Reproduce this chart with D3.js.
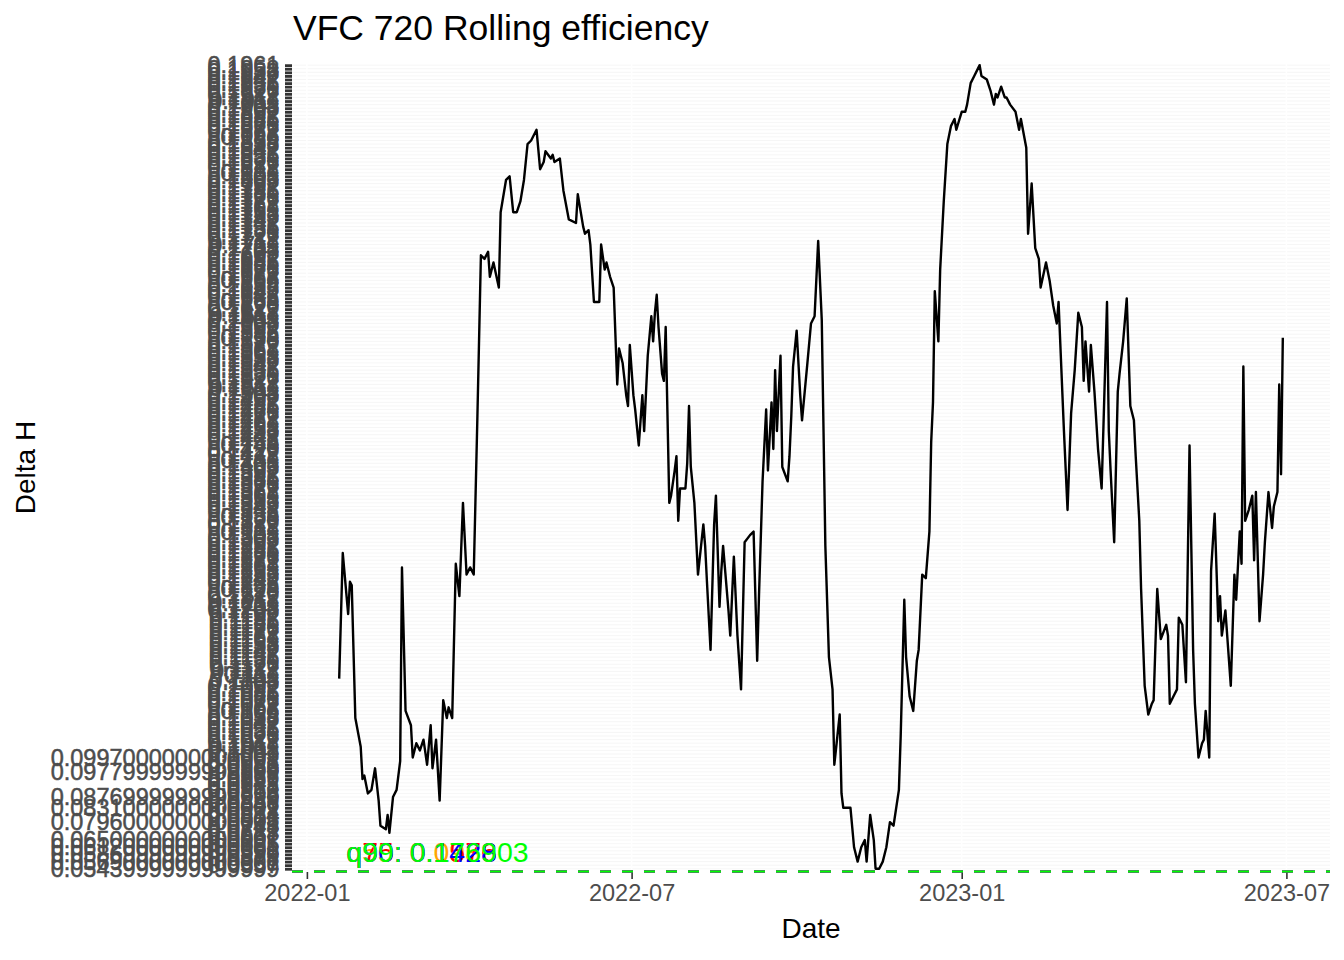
<!DOCTYPE html>
<html>
  <head>
    <meta charset="utf-8">
    <title>VFC 720 Rolling efficiency</title>
    <script src="https://d3js.org/d3.v7.min.js"></script>
    <style>
      body {
        margin: 0;
        background: #ffffff;
      }
      svg {
        font-family: "Liberation Sans", Arial, sans-serif;
      }
    </style>
  </head>
  <body>
    <div id="chart"></div>
    <script>

      // y is a discrete (character) axis: every distinct Delta H string is its own level
      const levels = [
        "0.0543999999999999", "0.0557", "0.0569000000000001", "0.0578", "0.0586999999999999",
        "0.0598", "0.0612000000000001", "0.0625", "0.0650000000000001", "0.0667",
        "0.0683", "0.0712", "0.0745", "0.0796000000000001", "0.0803",
        "0.0814", "0.0822", "0.0831000000000001", "0.0846", "0.0859",
        "0.0876999999999999", "0.0893", "0.0912", "0.0928", "0.0941",
        "0.0957", "0.0966", "0.0977999999999999", "0.0983", "0.0986",
        "0.0991", "0.0997000000000001",
        "0.1003", "0.1008", "0.1011", "0.1017", "0.1022", "0.1026", "0.1031", "0.1036", "0.1042", "0.1047",
        "0.1053", "0.1058", "0.106", "0.1067", "0.1072", "0.1076", "0.1081", "0.1086", "0.1092", "0.1097",
        "0.1103", "0.1108", "0.111", "0.1117", "0.1122", "0.1126", "0.1131", "0.1136", "0.1142", "0.1147",
        "0.1153", "0.1158", "0.1161", "0.1167", "0.1172", "0.1176", "0.1181", "0.1186", "0.1192", "0.1197",
        "0.1203", "0.1208", "0.1211", "0.1217", "0.1222", "0.1226", "0.123", "0.1236", "0.1242", "0.1247",
        "0.1253", "0.1258", "0.1261", "0.1267", "0.1272", "0.1276", "0.1281", "0.1286", "0.1292", "0.1297",
        "0.1303", "0.1308", "0.131", "0.1317", "0.1322", "0.1326", "0.133", "0.1336", "0.1342", "0.1347",
        "0.1353", "0.1358", "0.1361", "0.1367", "0.1372", "0.1376", "0.1381", "0.1386", "0.1392", "0.1397",
        "0.1403", "0.1408", "0.141", "0.1417", "0.1422", "0.1426", "0.143", "0.1436", "0.1442", "0.1447",
        "0.1453", "0.1458", "0.1461", "0.1467", "0.1472", "0.1476", "0.1481", "0.1486", "0.1492", "0.1497",
        "0.1503", "0.1508", "0.1511", "0.1517", "0.1522", "0.1526", "0.1531", "0.1536", "0.1542", "0.1547",
        "0.1553", "0.1558", "0.1561", "0.1567", "0.1572", "0.1576", "0.158", "0.1586", "0.1592", "0.1597",
        "0.1603", "0.1608", "0.1611", "0.1617", "0.1622", "0.1626", "0.163", "0.1636", "0.1642", "0.1647",
        "0.1653", "0.1658", "0.166", "0.1667", "0.1672", "0.1676", "0.1681", "0.1686", "0.1692", "0.1697",
        "0.1703", "0.1708", "0.1711", "0.1717", "0.1722", "0.1726", "0.1731", "0.1736", "0.1742", "0.1747",
        "0.1753", "0.1758", "0.1761", "0.1767", "0.1772", "0.1776", "0.1781", "0.1786", "0.1792", "0.1797",
        "0.1803", "0.1808", "0.181", "0.1817", "0.1822", "0.1826", "0.1831", "0.1836", "0.1842", "0.1847",
        "0.1853", "0.1858", "0.186", "0.1867", "0.1872", "0.1876", "0.1881", "0.1886", "0.1892", "0.1897",
        "0.1903", "0.1908", "0.1911", "0.1917", "0.1922", "0.1926", "0.1931", "0.1936", "0.1942", "0.1947",
        "0.1953", "0.1958", "0.1961"
      ];

      // rolling efficiency
      const dates = [
        "2022-01-19","2022-01-21","2022-01-24","2022-01-25","2022-01-26","2022-01-28","2022-01-31","2022-02-01","2022-02-02","2022-02-04",
        "2022-02-06","2022-02-08","2022-02-10","2022-02-11","2022-02-14","2022-02-15","2022-02-16","2022-02-18","2022-02-20","2022-02-22",
        "2022-02-23","2022-02-25","2022-02-28","2022-03-01","2022-03-03","2022-03-05","2022-03-07","2022-03-09","2022-03-11","2022-03-12",
        "2022-03-14","2022-03-16","2022-03-18","2022-03-20","2022-03-21","2022-03-23","2022-03-25","2022-03-27","2022-03-29","2022-03-31",
        "2022-04-02","2022-04-04","2022-04-06","2022-04-08","2022-04-10","2022-04-12","2022-04-13","2022-04-15","2022-04-18","2022-04-19",
        "2022-04-20","2022-04-22","2022-04-24","2022-04-26","2022-04-28","2022-04-30","2022-05-02","2022-05-04","2022-05-06","2022-05-09",
        "2022-05-11","2022-05-13","2022-05-14","2022-05-17","2022-05-18","2022-05-19","2022-05-22","2022-05-24","2022-05-27","2022-05-31",
        "2022-06-01","2022-06-04","2022-06-05","2022-06-07","2022-06-08","2022-06-10","2022-06-13","2022-06-14","2022-06-16","2022-06-17",
        "2022-06-19","2022-06-21","2022-06-23","2022-06-24","2022-06-26","2022-06-28","2022-06-29","2022-06-30","2022-07-02","2022-07-03",
        "2022-07-05","2022-07-07","2022-07-08","2022-07-10","2022-07-12","2022-07-13","2022-07-14","2022-07-15","2022-07-16","2022-07-18",
        "2022-07-19","2022-07-20","2022-07-22","2022-07-23","2022-07-25","2022-07-26","2022-07-27","2022-07-28","2022-07-31","2022-08-01",
        "2022-08-02","2022-08-03","2022-08-05","2022-08-07","2022-08-10","2022-08-11","2022-08-12","2022-08-14","2022-08-16","2022-08-17",
        "2022-08-19","2022-08-20","2022-08-21","2022-08-24","2022-08-25","2022-08-27","2022-08-29","2022-08-31","2022-09-02","2022-09-05",
        "2022-09-07","2022-09-09","2022-09-10","2022-09-12","2022-09-14","2022-09-15","2022-09-17","2022-09-18","2022-09-19","2022-09-20",
        "2022-09-22","2022-09-23","2022-09-26","2022-09-27","2022-09-28","2022-09-29","2022-10-01","2022-10-03","2022-10-04","2022-10-07",
        "2022-10-09","2022-10-11","2022-10-13","2022-10-15","2022-10-17","2022-10-19","2022-10-21","2022-10-22","2022-10-25","2022-10-26",
        "2022-10-27","2022-10-29","2022-10-31","2022-11-02","2022-11-04","2022-11-06","2022-11-08","2022-11-09","2022-11-11","2022-11-13",
        "2022-11-14","2022-11-16","2022-11-18","2022-11-20","2022-11-22","2022-11-24","2022-11-27","2022-11-28","2022-11-30","2022-12-01",
        "2022-12-03","2022-12-05","2022-12-07","2022-12-08","2022-12-10","2022-12-12","2022-12-14","2022-12-15","2022-12-16","2022-12-17",
        "2022-12-19","2022-12-20","2022-12-22","2022-12-24","2022-12-26","2022-12-28","2022-12-29","2023-01-01","2023-01-03","2023-01-04",
        "2023-01-06","2023-01-08","2023-01-11","2023-01-12","2023-01-15","2023-01-17","2023-01-19","2023-01-20","2023-01-21","2023-01-23",
        "2023-01-25","2023-01-26","2023-01-28","2023-01-31","2023-02-02","2023-02-03","2023-02-06","2023-02-07","2023-02-09","2023-02-11",
        "2023-02-13","2023-02-14","2023-02-17","2023-02-19","2023-02-21","2023-02-23","2023-02-24","2023-02-27","2023-03-01","2023-03-03",
        "2023-03-05","2023-03-07","2023-03-09","2023-03-10","2023-03-11","2023-03-13","2023-03-14","2023-03-16","2023-03-18","2023-03-20",
        "2023-03-21","2023-03-23","2023-03-24","2023-03-25","2023-03-27","2023-03-29","2023-03-30","2023-04-01","2023-04-03","2023-04-05",
        "2023-04-07","2023-04-08","2023-04-10","2023-04-11","2023-04-13","2023-04-15","2023-04-17","2023-04-18","2023-04-20","2023-04-22",
        "2023-04-25","2023-04-26","2023-04-27","2023-04-29","2023-05-01","2023-05-02","2023-05-04","2023-05-06","2023-05-08","2023-05-10",
        "2023-05-11","2023-05-13","2023-05-15","2023-05-16","2023-05-17","2023-05-19","2023-05-20","2023-05-22","2023-05-24","2023-05-25",
        "2023-05-26","2023-05-28","2023-05-30","2023-05-31","2023-06-02","2023-06-03","2023-06-05","2023-06-06","2023-06-07","2023-06-08",
        "2023-06-10","2023-06-12","2023-06-13","2023-06-14","2023-06-16","2023-06-18","2023-06-19","2023-06-21","2023-06-23","2023-06-24",
        "2023-06-26","2023-06-27","2023-06-28","2023-06-29"
      ];

      const deltaH = [
        0.1107, 0.1281, 0.1195, 0.1243, 0.1236, 0.1053, 0.1010, 0.0957, 0.0966, 0.0893,
        0.0912, 0.0983, 0.0859, 0.0745, 0.0712, 0.0814, 0.0683, 0.0877, 0.0912, 0.0991,
        0.1261, 0.1063, 0.1042, 0.0997, 0.1014, 0.1007, 0.1021, 0.0986, 0.1042, 0.0983,
        0.1021, 0.0859, 0.1077, 0.1052, 0.1065, 0.1053, 0.1264, 0.1223, 0.1355, 0.1251,
        0.1260, 0.1255, 0.1466, 0.1695, 0.1692, 0.1703, 0.1668, 0.1686, 0.1654, 0.1759,
        0.1773, 0.1803, 0.1807, 0.1756, 0.1756, 0.1773, 0.1803, 0.1852, 0.1856, 0.1870,
        0.1817, 0.1828, 0.1842, 0.1832, 0.1835, 0.1828, 0.1831, 0.1786, 0.1745, 0.1742,
        0.1780, 0.1738, 0.1728, 0.1731, 0.1710, 0.1633, 0.1631, 0.1710, 0.1675, 0.1686,
        0.1668, 0.1654, 0.1515, 0.1568, 0.1550, 0.1501, 0.1487, 0.1571, 0.1501, 0.1480,
        0.1429, 0.1501, 0.1452, 0.1557, 0.1612, 0.1578, 0.1619, 0.1643, 0.1599, 0.1529,
        0.1522, 0.1596, 0.1351, 0.1362, 0.1397, 0.1418, 0.1327, 0.1372, 0.1372, 0.1408,
        0.1487, 0.1404, 0.1355, 0.1251, 0.1320, 0.1292, 0.1243, 0.1146, 0.1320, 0.1362,
        0.1209, 0.1258, 0.1292, 0.1202, 0.1167, 0.1278, 0.1167, 0.1090, 0.1299, 0.1309,
        0.1313, 0.1132, 0.1223, 0.1383, 0.1480, 0.1397, 0.1494, 0.1425, 0.1536, 0.1455,
        0.1557, 0.1404, 0.1383, 0.1418, 0.1473, 0.1543, 0.1589, 0.1505, 0.1466, 0.1550,
        0.1603, 0.1610, 0.1717, 0.1608, 0.1292, 0.1139, 0.1090, 0.0986, 0.1058, 0.0893,
        0.0831, 0.0831, 0.0831, 0.0612, 0.0569, 0.0612, 0.0650, 0.0569, 0.0814, 0.0650,
        0.0544, 0.0544, 0.0569, 0.0612, 0.0796, 0.0745, 0.0912, 0.1028, 0.1216, 0.1139,
        0.1083, 0.1063, 0.1132, 0.1146, 0.1251, 0.1246, 0.1313, 0.1438, 0.1494, 0.1650,
        0.1578, 0.1675, 0.1773, 0.1853, 0.1877, 0.1887, 0.1873, 0.1895, 0.1900, 0.1908,
        0.1937, 0.1949, 0.1960, 0.1949, 0.1940, 0.1928, 0.1908, 0.1922, 0.1919, 0.1930,
        0.1915, 0.1919, 0.1908, 0.1898, 0.1873, 0.1884, 0.1849, 0.1727, 0.1800, 0.1706,
        0.1692, 0.1654, 0.1689, 0.1661, 0.1626, 0.1603, 0.1633, 0.1452, 0.1341, 0.1477,
        0.1536, 0.1615, 0.1599, 0.1522, 0.1578, 0.1508, 0.1571, 0.1508, 0.1425, 0.1372,
        0.1459, 0.1629, 0.1452, 0.1397, 0.1299, 0.1508, 0.1529, 0.1578, 0.1636, 0.1487,
        0.1466, 0.1418, 0.1327, 0.1230, 0.1096, 0.1058, 0.1070, 0.1077, 0.1230, 0.1163,
        0.1181, 0.1167, 0.1070, 0.1083, 0.1090, 0.1192, 0.1181, 0.1104, 0.1431, 0.1149,
        0.1070, 0.0997, 0.1014, 0.1021, 0.1063, 0.0997, 0.1258, 0.1337, 0.1188, 0.1223,
        0.1166, 0.1202, 0.1132, 0.1097, 0.1251, 0.1216, 0.1310, 0.1264, 0.1539, 0.1327,
        0.1341, 0.1362, 0.1271, 0.1365, 0.1185, 0.1251, 0.1299, 0.1365, 0.1317, 0.1348,
        0.1366, 0.1515, 0.1394, 0.1580
      ];

      const tickDates = ["2022-01-01", "2022-07-01", "2023-01-01", "2023-07-01"];

      // quantile reference lines (continuous values on the discrete axis)
      const qNames = ["q50", "q75", "q90", "q99"];
      const qValues = ["0.0986", "0.1576", "0.1428", "0.176903"];
      const qColors = ["orange", "red", "blue", "#00ff00"];
      const qLabelDate = "2022-01-23";

      // set up dimensions of the panel
      const width = 1344;
      const height = 960;
      const panel = {left: 292, right: 1330, top: 63, bottom: 872};

      const parse = d3.timeParse("%Y-%m-%d");
      const data = dates.map((d, i) => ({date: parse(d), value: deltaH[i]}));

      // x scale with ggplot's 5% expansion
      const ext = d3.extent(data, d => d.date);
      const pad = (ext[1] - ext[0]) * 0.05;
      const x = d3.scaleTime()
        .domain([new Date(+ext[0] - pad), new Date(+ext[1] + pad)])
        .range([panel.left, panel.right]);

      // level i sits at position i, the hlines share that space
      const qMin = d3.min(qValues, Number);
      const yPos = d3.scaleLinear()
        .domain([qMin, levels.length + 0.6])
        .range([panel.bottom, panel.top]);

      const y = d3.scalePoint()
        .domain(levels)
        .range([yPos(1), yPos(levels.length)]);

      // each value goes to its own level string
      const levelNum = levels.map(Number);
      const levelOf = v => levels[d3.minIndex(levelNum, n => Math.abs(n - v))];

      const svg = d3.select("#chart")
        .append("svg")
        .attr("width", width)
        .attr("height", height);

      svg.append("rect")
        .attr("width", width)
        .attr("height", height)
        .attr("fill", "#ffffff");

      // horizontal grid, one faint line per level
      svg.append("g")
        .selectAll("line")
        .data(levels)
        .enter().append("line")
        .attr("x1", panel.left)
        .attr("x2", panel.right)
        .attr("y1", d => y(d))
        .attr("y2", d => y(d))
        .attr("stroke", "#ebebeb")
        .attr("stroke-width", 0.45);

      svg.append("g")
        .selectAll("line")
        .data(tickDates)
        .enter().append("line")
        .attr("x1", d => x(parse(d)))
        .attr("x2", d => x(parse(d)))
        .attr("y1", panel.top)
        .attr("y2", panel.bottom)
        .attr("stroke", "#ffffff")
        .attr("stroke-width", 1.5);

      // y axis: every level gets a tick and a label
      const yAxis = svg.append("g")
        .attr("transform", `translate(${panel.left},0)`)
        .call(d3.axisLeft(y).tickSize(7).tickPadding(5.6))
        .attr("font-size", 23.5)
        .attr("font-family", null);
      yAxis.select(".domain").remove();
      yAxis.selectAll("line").attr("stroke", "#333333").attr("stroke-width", 2.8);
      yAxis.selectAll("text")
        .attr("fill", "#4d4d4d")
        .attr("stroke", "#4d4d4d")
        .attr("stroke-width", 0.5);

      // x axis
      const xAxis = svg.append("g")
        .attr("transform", `translate(0,${panel.bottom})`)
        .call(d3.axisBottom(x)
          .tickValues(tickDates.map(parse))
          .tickFormat(d3.timeFormat("%Y-%m"))
          .tickSize(7)
          .tickPadding(5.6))
        .attr("font-size", 23.5)
        .attr("font-family", null);
      xAxis.select(".domain").remove();
      xAxis.selectAll("line").attr("stroke", "#333333").attr("stroke-width", 1.6);
      xAxis.selectAll("text").attr("fill", "#4d4d4d");

      // the rolling efficiency line
      const line = d3.line()
        .x(d => x(d.date))
        .y(d => y(levelOf(d.value)));

      svg.append("path")
        .datum(data)
        .attr("d", line)
        .attr("fill", "none")
        .attr("stroke", "#000000")
        .attr("stroke-width", 2.4)
        .attr("stroke-linejoin", "round");

      // quantile lines and their labels
      qValues.forEach((q, i) => {
        svg.append("line")
          .attr("x1", panel.left)
          .attr("x2", panel.right)
          .attr("y1", Math.round(yPos(+q)) - 0.5)
          .attr("y2", Math.round(yPos(+q)) - 0.5)
          .attr("stroke", qColors[i])
          .attr("stroke-width", 2)
          .attr("stroke-dasharray", "11,11");
      });

      qValues.forEach((q, i) => {
        svg.append("text")
          .attr("x", x(parse(qLabelDate)))
          .attr("y", yPos(+q) - 10)
          .attr("fill", qColors[i])
          .attr("font-size", 28.5)
          .text(qNames[i] + ": " + q);
      });

      // titles
      svg.append("text")
        .attr("x", panel.left + 1)
        .attr("y", 40)
        .attr("font-size", 35.5)
        .attr("fill", "#000000")
        .text("VFC 720 Rolling efficiency");

      svg.append("text")
        .attr("x", (panel.left + panel.right) / 2)
        .attr("y", 938)
        .attr("text-anchor", "middle")
        .attr("font-size", 28)
        .attr("fill", "#000000")
        .text("Date");

      svg.append("text")
        .attr("transform", `translate(35,${(panel.top + panel.bottom) / 2}) rotate(-90)`)
        .attr("text-anchor", "middle")
        .attr("font-size", 28)
        .attr("fill", "#000000")
        .text("Delta H");

    </script>
  </body>
</html>
